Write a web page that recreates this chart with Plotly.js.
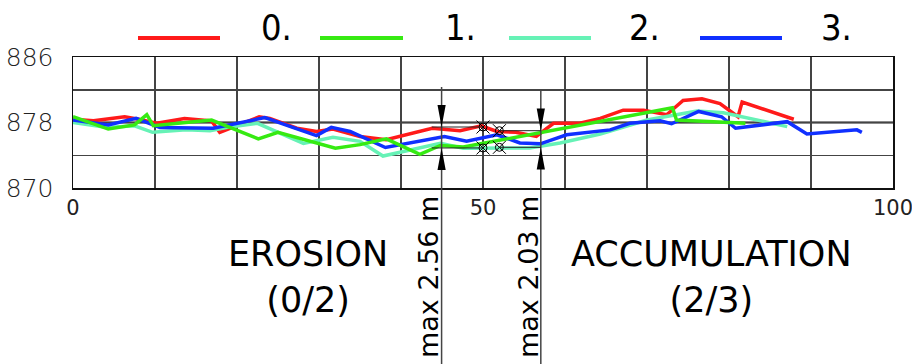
<!DOCTYPE html>
<html>
<head>
<meta charset="utf-8">
<script src="https://cdn.plot.ly/plotly-3.0.1.min.js"></script>
<style>html,body{margin:0;padding:0;background:#fff;}#chart{width:912px;height:364px;}</style>
</head>
<body>
<div id="chart"></div>
<script>
// ---- data ----
const seriesNames = ['0.', '1.', '2.', '3.'];
const x0 = [0, 2.5, 6.3, 8, 10.2, 13.6, 16.9, 17.9, 22.7, 24, 27.3, 29.7, 31.7, 35, 38.2, 43.8, 47.2, 49.8, 51.7, 54, 56.5, 58.6, 61.8, 64.3, 67.1, 69.6, 72.4, 74.4, 76.7, 78.9, 81.1, 81.6, 87.9];
const y0 = [878.4, 878.2, 878.7, 878.4, 877.9, 878.5, 878.2, 876.8, 878.7, 878.5, 877.3, 876.9, 877.2, 876.3, 875.9, 877.3, 877.0, 877.6, 876.9, 876.8, 876.3, 877.9, 877.9, 878.5, 879.5, 879.5, 878.95, 880.7, 880.9, 880.3, 878.7, 880.5, 878.4];
const x1 = [0, 4.3, 7.5, 9, 9.8, 16.9, 22.6, 25, 32.0, 35, 38.2, 42.3, 44.8, 47.6, 73.1, 73.6, 82];
const y1 = [878.7, 877.2, 877.7, 878.95, 877.6, 878.3, 876.0, 876.8, 874.85, 875.3, 876.0, 874.1, 875.2, 875.0, 879.8, 878.3, 877.9];
const x2 = [0, 4.2, 7.5, 9.7, 13.8, 16.7, 18.7, 22.5, 28.1, 31.7, 35, 37.8, 44.8, 47.6, 55.7, 59.4, 64.3, 70, 76.1, 79.3, 87.1];
const y2 = [878.0, 877.4, 877.6, 876.8, 877.1, 877.0, 877.4, 877.9, 875.45, 876.2, 875.7, 873.9, 875.45, 874.85, 874.9, 875.5, 876.6, 878.3, 879.4, 879.2, 877.5];
const x3 = [0, 4.3, 7.7, 10.6, 17.1, 23.4, 26.8, 29.7, 31.5, 33.8, 38.1, 45.3, 48, 51.7, 54.5, 57, 60.2, 65.5, 67.9, 71.6, 73, 76.3, 79.1, 80.8, 87.1, 89.5, 95.6, 96.2];
const y3 = [878.3, 877.7, 878.5, 877.4, 877.3, 878.6, 877.4, 876.4, 877.4, 876.9, 874.95, 876.3, 875.7, 876.5, 875.5, 875.4, 876.5, 877.1, 877.9, 878.2, 877.85, 879.35, 878.7, 877.3, 878.1, 876.6, 877.1, 876.8];

// difference annotations
const annX = [44.95, 57.05];
const markX = [50, 52];
const markTop = [877.45, 877.0];
const markBot = [874.89, 874.97];
const annLabels = ['max 2.56 m', 'max 2.03 m'];

const xTickVals = [0, 10, 20, 30, 40, 50, 60, 70, 80, 90, 100];
const xTickText = ['0', '', '', '', '', '50', '', '', '', '', '100'];
const yTickVals = [870, 874, 878, 882, 886];
const yTickText = ['870', '', '878', '', '886'];

const zoneLabels = ['EROSION<br>(0/2)', 'ACCUMULATION<br>(2/3)'];

// ---- style ----
const colors = ['#ff1a1a', '#36ea12', '#66f2b6', '#1030ff'];
const L = 73, R = 19, T = 57, B = 176;
const FONT = 'DejaVu Sans, sans-serif';

function ann(px, py, text, extra) {
  return Object.assign({
    xref: 'paper', yref: 'paper', x: 0, y: 1, xanchor: 'center', yanchor: 'middle',
    xshift: px - L, yshift: T - py,
    text: text, showarrow: false,
    font: {family: FONT, size: 35, color: '#000'}
  }, extra || {});
}
function pxLine(xa, ya, xb, yb, color, width) {
  return {type: 'line', xref: 'paper', yref: 'paper', xsizemode: 'pixel', ysizemode: 'pixel',
    xanchor: 0, yanchor: 1, x0: xa - L, x1: xb - L, y0: T - ya, y1: T - yb,
    line: {color: color, width: width}};
}

const xs = [x0, x1, x2, x3], ys = [y0, y1, y2, y3];
const order = [0, 2, 3, 1];
const traces = order.map(i => ({
  type: 'scatter', mode: 'lines', x: xs[i], y: ys[i], name: seriesNames[i],
  line: {color: colors[i], width: 3.5}, showlegend: false, hoverinfo: 'skip'
}));
const mx = markX.concat(markX), my = markTop.concat(markBot);
traces.push({type: 'scatter', mode: 'markers', x: mx, y: my, showlegend: false, hoverinfo: 'skip',
  marker: {symbol: 'circle-open', size: 8, color: '#000', line: {width: 1, color: '#000'}}});
traces.push({type: 'scatter', mode: 'markers', x: mx, y: my, showlegend: false, hoverinfo: 'skip',
  marker: {symbol: 'x-thin-open', size: 13, color: '#000', line: {width: 1, color: '#000'}}});

const shapes = [];
// 878 heavy grid line
shapes.push({type: 'line', xref: 'paper', x0: 0, x1: 1, yref: 'y', y0: 878, y1: 878, layer: 'below', line: {color: '#8a8a8a', width: 3}});
// vertical dimension lines & arrows
const arrowHalfW = 0.5, arrowLen = 2.7;
for (let k = 0; k < annX.length; k++) {
  const ax = annX[k];
  shapes.push({type: 'line', xref: 'paper', yref: 'paper', ysizemode: 'pixel', yanchor: 1,
    x0: ax / 100, x1: ax / 100, y0: k === 0 ? -30 : -33, y1: -307, line: {color: '#444', width: 1.5}});
  const hx0 = Math.min(ax - 1.2, markX[k]), hx1 = Math.max(ax, markX[k]);
  shapes.push({type: 'line', xref: 'x', yref: 'y', x0: hx0, x1: hx1, y0: markTop[k], y1: markTop[k], line: {color: '#222', width: 1}});
  shapes.push({type: 'line', xref: 'x', yref: 'y', x0: hx0, x1: hx1, y0: markBot[k], y1: markBot[k], line: {color: '#222', width: 1}});
  shapes.push({type: 'path', xref: 'x', yref: 'y', fillcolor: '#000', line: {width: 0},
    path: `M ${ax - arrowHalfW},${markTop[k] + arrowLen} L ${ax + arrowHalfW},${markTop[k] + arrowLen} L ${ax},${markTop[k]} Z`});
  shapes.push({type: 'path', xref: 'x', yref: 'y', fillcolor: '#000', line: {width: 0},
    path: `M ${ax - arrowHalfW},${markBot[k] - arrowLen} L ${ax + arrowHalfW},${markBot[k] - arrowLen} L ${ax},${markBot[k]} Z`});
}
// legend samples
const legLineX = [[138, 220], [320, 403], [509, 591], [700, 782]];
const legTextX = [259, 443, 627, 819];
for (let i = 0; i < 4; i++) {
  shapes.push(pxLine(legLineX[i][0], 38, legLineX[i][1], 38, colors[i], 4));
}

const annotations = [];
for (let i = 0; i < 4; i++) {
  annotations.push(ann(legTextX[i], 27, seriesNames[i], {xanchor: 'left', font: {family: 'Liberation Sans Narrow, DejaVu Sans Condensed, sans-serif', size: 36, color: '#000'}}));
}
annotations.push(ann(308, 277, zoneLabels[0], {font: {family: FONT, size: 35, color: '#000'}}));
annotations.push(ann(711, 277, zoneLabels[1], {font: {family: FONT, size: 35, color: '#000'}}));
const annPx = [428, 528];
for (let k = 0; k < 2; k++) {
  annotations.push(ann(annPx[k], 277, annLabels[k], {textangle: -90, font: {family: FONT, size: 27, color: '#000'}}));
}

const layout = {
  width: 912, height: 364,
  margin: {l: L, r: R, t: T, b: B, pad: 0},
  paper_bgcolor: '#fff', plot_bgcolor: '#fff',
  showlegend: false,
  xaxis: {range: [0, 100], tickvals: xTickVals, ticktext: xTickText, showgrid: true, gridcolor: '#444', gridwidth: 1.5,
    showline: true, mirror: true, linecolor: '#111', linewidth: 1.5, ticks: '', zeroline: false,
    tickfont: {family: FONT, size: 21, color: '#222'}, ticklabelstandoff: 0, ticklabeloverflow: 'allow'},
  yaxis: {range: [870, 886], tickvals: yTickVals, ticktext: yTickText, showgrid: true, gridcolor: '#444', gridwidth: 1.5,
    showline: true, mirror: true, linecolor: '#111', linewidth: 1.5, ticks: '', zeroline: false,
    tickfont: {family: FONT, size: 25, color: '#222', weight: 300}, ticklabelstandoff: 13},
  shapes: shapes,
  annotations: annotations
};

Plotly.newPlot('chart', traces, layout, {staticPlot: true, displayModeBar: false});
</script>
</body>
</html>
